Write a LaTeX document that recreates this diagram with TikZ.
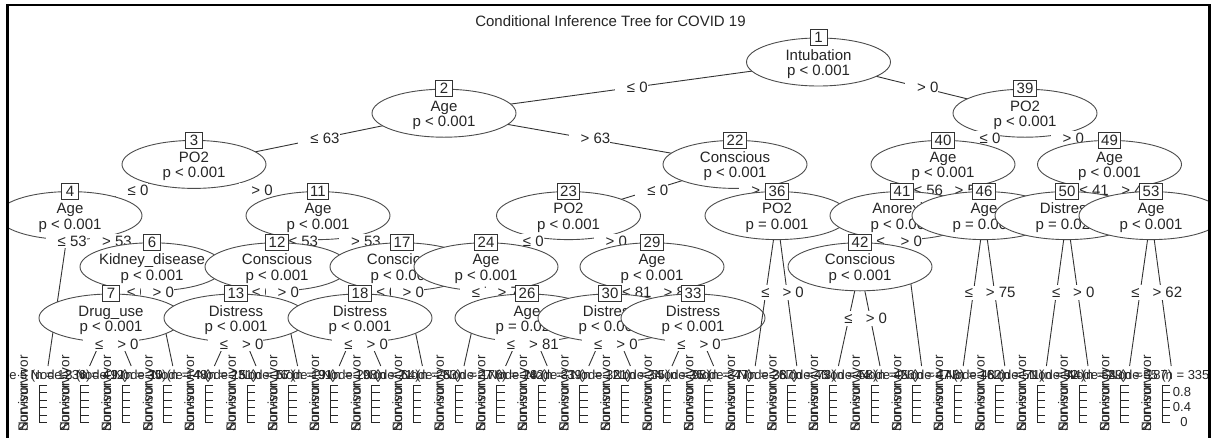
\documentclass[tikz,border=0pt]{standalone}
\usepackage{fontspec}
\setmainfont{Liberation Sans}
\usetikzlibrary{shapes.geometric}
\tikzset{
  ell/.style={ellipse, draw=black!70, fill=white, line width=0.9pt, minimum width=144pt, minimum height=48pt, inner sep=0pt},
  itxt/.style={font=\fontsize{15}{15}\selectfont, text=black!85, inner sep=0pt},
  nbox/.style={draw=black!80, fill=white, line width=0.9pt, font=\fontsize{15}{15}\selectfont, text=black!85, inner xsep=3pt, inner ysep=0pt, minimum width=17pt, minimum height=16pt},
  elab/.style={fill=white, inner xsep=0pt, inner ysep=2pt, font=\fontsize{15}{15}\selectfont, text=black!85},
  connln/.style={draw=black!80, line width=0.9pt},
  ttl/.style={font=\fontsize{13}{13}\selectfont, text=black!85, inner sep=0pt},
  rlab/.style={font=\fontsize{13.5}{13.5}\selectfont, text=black!85, rotate=90, anchor=west, inner sep=0pt},
  axisln/.style={draw=black!85, line width=0.8pt},
  ticklab/.style={font=\fontsize{13}{13}\selectfont, text=black!85, inner sep=0pt},
}
% inner node: id, variable, p-value
\newcommand\inpanel[3]{%
  \node[ell] (n#1) at (c#1) {};
  \node[itxt, anchor=base] (v#1) at ([yshift=2pt]c#1) {#2};
  \node[itxt, anchor=base] (p#1) at ([yshift=-13.5pt]c#1) {#3};
  \node[nbox] (b#1) at (n#1.north) {#1};
}
% terminal node: id, x of edge end, n
\newcommand\tpanel[3]{%
  \node[ttl] (t#1) at ({#2-10},376) {Node #1 (n = #3)};
  \node[rlab] (ns#1) at ({#2-25},432) {Non-survivor};
  \node[rlab] (sv#1) at ({#2-25},432) {Survivor};
  \draw[axisln] ({#2-9},385) -- ({#2-9},422.5);
  \foreach \k in {0,...,5} \draw[axisln] ({#2-9},{422.5-7.5*\k}) -- ++(8,0);
}
\newcommand\conn[2]{\draw[connln] (c#1) -- (#2);}
\newcommand\edgelbl[4]{\path (c#1) -- (#2) node[elab, pos=#3] (l#1#2) {\hspace{12pt}#4};}
\begin{document}
\begin{tikzpicture}[x=1pt,y=-1pt]
\useasboundingbox (0,0) rectangle (1216,437);
\fill[white] (0,0) rectangle (1216,437);
% inner node centres
\coordinate (c1) at (818.5,62);
\coordinate (c2) at (444,113.2);
\coordinate (c39) at (1025,113.2);
\coordinate (c3) at (194,164.4);
\coordinate (c22) at (735,164.4);
\coordinate (c40) at (943,164.4);
\coordinate (c49) at (1109.5,164.4);
\coordinate (c4) at (70,215.6);
\coordinate (c11) at (318,215.6);
\coordinate (c23) at (568.5,215.6);
\coordinate (c36) at (777,215.6);
\coordinate (c41) at (902,215.6);
\coordinate (c46) at (984,215.6);
\coordinate (c50) at (1067,215.6);
\coordinate (c53) at (1151,215.6);
\coordinate (c6) at (152,266.8);
\coordinate (c12) at (277,266.8);
\coordinate (c17) at (402,266.8);
\coordinate (c24) at (486,266.8);
\coordinate (c29) at (652,266.8);
\coordinate (c42) at (860,266.8);
\coordinate (c7) at (111,318);
\coordinate (c13) at (236,318);
\coordinate (c18) at (360,318);
\coordinate (c26) at (527,318);
\coordinate (c30) at (610,318);
\coordinate (c33) at (693,318);
% terminal edge ends
\coordinate (e5) at (48,366);
\coordinate (e8) at (89.6,366);
\coordinate (e9) at (131.2,366);
\coordinate (e10) at (172.8,366);
\coordinate (e14) at (214.4,366);
\coordinate (e15) at (256,366);
\coordinate (e16) at (297.6,366);
\coordinate (e19) at (339.2,366);
\coordinate (e20) at (380.8,366);
\coordinate (e21) at (422.4,366);
\coordinate (e25) at (464,366);
\coordinate (e27) at (505.6,366);
\coordinate (e28) at (547.2,366);
\coordinate (e31) at (588.8,366);
\coordinate (e32) at (630.4,366);
\coordinate (e34) at (672,366);
\coordinate (e35) at (713.6,366);
\coordinate (e37) at (755.2,366);
\coordinate (e38) at (796.8,366);
\coordinate (e43) at (838.4,366);
\coordinate (e44) at (880,366);
\coordinate (e45) at (921.6,366);
\coordinate (e47) at (963.2,366);
\coordinate (e48) at (1004.8,366);
\coordinate (e51) at (1046.4,366);
\coordinate (e52) at (1088,366);
\coordinate (e54) at (1129.6,366);
\coordinate (e55) at (1171.2,366);

\begin{scope}
\clip (7.5,5) rectangle (1209.5,445);
\node[itxt, anchor=base] (title) at (610.5,26) {Conditional Inference Tree for COVID 19};

% ---- node 1
\conn{1}{c2}\conn{1}{c39}
\inpanel{1}{Intubation}{p < 0.001}
\edgelbl{1}{c2}{0.5}{≤ 0}\edgelbl{1}{c39}{0.5}{> 0}
% ---- node 2
\conn{2}{c3}\conn{2}{c22}
\inpanel{2}{Age}{p < 0.001}
\edgelbl{2}{c3}{0.5}{≤ 63}\edgelbl{2}{c22}{0.5}{> 63}
% ---- node 3
\conn{3}{c4}\conn{3}{c11}
\inpanel{3}{PO2}{p < 0.001}
\edgelbl{3}{c4}{0.5}{≤ 0}\edgelbl{3}{c11}{0.5}{> 0}
% ---- node 4
\conn{4}{e5}\conn{4}{c6}
\inpanel{4}{Age}{p < 0.001}
\edgelbl{4}{e5}{0.170}{≤ 53}\edgelbl{4}{c6}{0.5}{> 53}
\tpanel{5}{48}{1236}
% ---- node 6
\conn{6}{c7}\conn{6}{e10}
\inpanel{6}{Kidney\_disease}{p < 0.001}
\edgelbl{6}{c7}{0.5}{≤ 0}\edgelbl{6}{e10}{0.258}{> 0}
% ---- node 7
\conn{7}{e8}\conn{7}{e9}
\inpanel{7}{Drug\_use}{p < 0.001}
\edgelbl{7}{e8}{0.542}{≤ 0}\edgelbl{7}{e9}{0.542}{> 0}
\tpanel{8}{89.6}{412}
\tpanel{9}{131.2}{35}
\tpanel{10}{172.8}{48}
% ---- node 11
\conn{11}{c12}\conn{11}{c17}
\inpanel{11}{Age}{p < 0.001}
\edgelbl{11}{c12}{0.5}{≤ 53}\edgelbl{11}{c17}{0.5}{> 53}
% ---- node 12
\conn{12}{c13}\conn{12}{e16}
\inpanel{12}{Conscious}{p < 0.001}
\edgelbl{12}{c13}{0.5}{≤ 0}\edgelbl{12}{e16}{0.258}{> 0}
% ---- node 13
\conn{13}{e14}\conn{13}{e15}
\inpanel{13}{Distress}{p < 0.001}
\edgelbl{13}{e14}{0.542}{≤ 0}\edgelbl{13}{e15}{0.542}{> 0}
\tpanel{14}{214.4}{231}
\tpanel{15}{256}{57}
\tpanel{16}{297.6}{91}
% ---- node 17
\conn{17}{c18}\conn{17}{e21}
\inpanel{17}{Conscious}{p < 0.001}
\edgelbl{17}{c18}{0.5}{≤ 0}\edgelbl{17}{e21}{0.258}{> 0}
% ---- node 18
\conn{18}{e19}\conn{18}{e20}
\inpanel{18}{Distress}{p < 0.001}
\edgelbl{18}{e19}{0.542}{≤ 0}\edgelbl{18}{e20}{0.542}{> 0}
\tpanel{19}{339.2}{198}
\tpanel{20}{380.8}{64}
\tpanel{21}{422.4}{83}
% ---- node 22
\conn{22}{c23}\conn{22}{c36}
\inpanel{22}{Conscious}{p < 0.001}
\edgelbl{22}{c23}{0.5}{≤ 0}\edgelbl{22}{c36}{0.5}{> 0}
% ---- node 23
\conn{23}{c24}\conn{23}{c29}
\inpanel{23}{PO2}{p < 0.001}
\edgelbl{23}{c24}{0.5}{≤ 0}\edgelbl{23}{c29}{0.5}{> 0}
% ---- node 24
\conn{24}{e25}\conn{24}{c26}
\inpanel{24}{Age}{p < 0.001}
\edgelbl{24}{e25}{0.258}{≤ 75}\edgelbl{24}{c26}{0.5}{> 75}
\tpanel{25}{464}{176}
% ---- node 26
\conn{26}{e27}\conn{26}{e28}
\inpanel{26}{Age}{p = 0.022}
\edgelbl{26}{e27}{0.542}{≤ 81}\edgelbl{26}{e28}{0.542}{> 81}
\tpanel{27}{505.6}{142}
\tpanel{28}{547.2}{39}
% ---- node 29
\conn{29}{c30}\conn{29}{c33}
\inpanel{29}{Age}{p < 0.001}
\edgelbl{29}{c30}{0.5}{≤ 81}\edgelbl{29}{c33}{0.5}{> 81}
% ---- node 30
\conn{30}{e31}\conn{30}{e32}
\inpanel{30}{Distress}{p < 0.001}
\edgelbl{30}{e31}{0.542}{≤ 0}\edgelbl{30}{e32}{0.542}{> 0}
\tpanel{31}{588.8}{121}
\tpanel{32}{630.4}{55}
% ---- node 33
\conn{33}{e34}\conn{33}{e35}
\inpanel{33}{Distress}{p < 0.001}
\edgelbl{33}{e34}{0.542}{≤ 0}\edgelbl{33}{e35}{0.542}{> 0}
\tpanel{34}{672}{98}
\tpanel{35}{713.6}{47}
% ---- node 36
\conn{36}{e37}\conn{36}{e38}
\inpanel{36}{PO2}{p = 0.001}
\edgelbl{36}{e37}{0.513}{≤ 0}\edgelbl{36}{e38}{0.513}{> 0}
\tpanel{37}{755.2}{267}
\tpanel{38}{796.8}{73}
% ---- node 39
\conn{39}{c40}\conn{39}{c49}
\inpanel{39}{PO2}{p < 0.001}
\edgelbl{39}{c40}{0.5}{≤ 0}\edgelbl{39}{c49}{0.5}{> 0}
% ---- node 40
\conn{40}{c41}\conn{40}{c46}
\inpanel{40}{Age}{p < 0.001}
\edgelbl{40}{c41}{0.5}{≤ 56}\edgelbl{40}{c46}{0.5}{> 56}
% ---- node 41
\conn{41}{c42}\conn{41}{e45}
\inpanel{41}{Anorexia}{p < 0.001}
\edgelbl{41}{c42}{0.5}{≤ 0}\edgelbl{41}{e45}{0.170}{> 0}
% ---- node 42
\conn{42}{e43}\conn{42}{e44}
\inpanel{42}{Conscious}{p < 0.001}
\edgelbl{42}{e43}{0.520}{≤ 0}\edgelbl{42}{e44}{0.520}{> 0}
\tpanel{43}{838.4}{58}
\tpanel{44}{880}{26}
\tpanel{45}{921.6}{143}
% ---- node 46
\conn{46}{e47}\conn{46}{e48}
\inpanel{46}{Age}{p = 0.002}
\edgelbl{46}{e47}{0.513}{≤ 75}\edgelbl{46}{e48}{0.513}{> 75}
\tpanel{47}{963.2}{162}
\tpanel{48}{1004.8}{71}
% ---- node 49
\conn{49}{c50}\conn{49}{c53}
\inpanel{49}{Age}{p < 0.001}
\edgelbl{49}{c50}{0.5}{≤ 41}\edgelbl{49}{c53}{0.5}{> 41}
% ---- node 50
\conn{50}{e51}\conn{50}{e52}
\inpanel{50}{Distress}{p = 0.021}
\edgelbl{50}{e51}{0.513}{≤ 0}\edgelbl{50}{e52}{0.513}{> 0}
\tpanel{51}{1046.4}{44}
\tpanel{52}{1088}{29}
% ---- node 53
\conn{53}{e54}\conn{53}{e55}
\inpanel{53}{Age}{p < 0.001}
\edgelbl{53}{e54}{0.513}{≤ 62}\edgelbl{53}{e55}{0.513}{> 62}
\tpanel{54}{1129.6}{187}
\tpanel{55}{1171.2}{335}
% y-axis labels of the last panel
\node[ticklab] (y08) at (1182,392.5) {0.8};
\node[ticklab] (y04) at (1182,407.5) {0.4};
\node[ticklab] (y00) at (1184,422.5) {0};
\end{scope}
\draw[line width=2.5pt] (7.5,5) rectangle (1209.5,450);
\end{tikzpicture}
\end{document}
